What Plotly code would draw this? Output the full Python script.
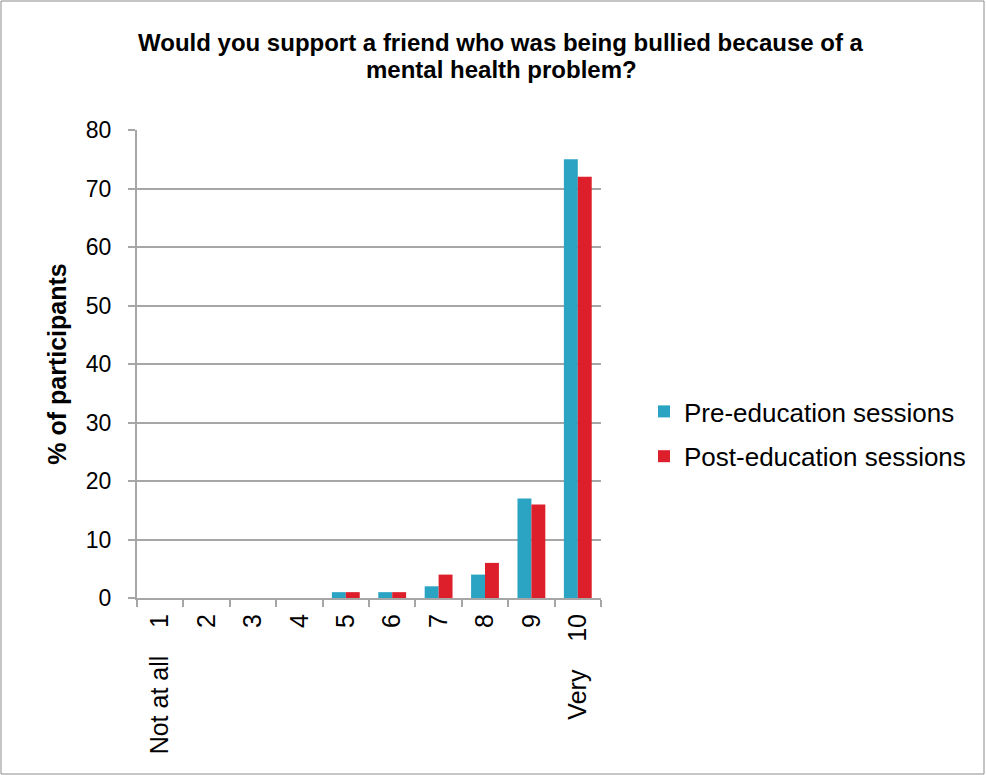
import plotly.graph_objects as go

categories = ["1", "2", "3", "4", "5", "6", "7", "8", "9", "10"]
sp = "\u00a0" * 4
tick_labels = ["Not at all" + sp + "1", "2", "3", "4", "5", "6", "7", "8", "9", "Very" + sp + "10"]
pre_values = [0, 0, 0, 0, 1, 1, 2, 4, 17, 75]
post_values = [0, 0, 0, 0, 1, 1, 4, 6, 16, 72]
series_names = ["Pre-education sessions", "Post-education sessions"]
title_lines = ["Would you support a friend who was being bullied because of a",
               "mental health problem?"]

W, H = 986, 775
L, R, T, B = 137, 385, 130, 177

fig = go.Figure()
fig.add_trace(go.Bar(x=categories, y=pre_values, name=series_names[0], legendgroup="a",
                     marker=dict(color="#2BA3C3", line=dict(width=0))))
fig.add_trace(go.Bar(x=categories, y=post_values, name=series_names[1], legendgroup="b",
                     marker=dict(color="#DD1E2B", line=dict(width=0))))

pw = W - L - R
ph = H - T - B
def px_x(p):
    return (p - L) / pw
def px_y(p):
    return (H - B - p) / ph

fig.add_shape(type="rect", xref="paper", yref="paper",
              x0=px_x(1), x1=px_x(W - 2), y0=px_y(H - 1), y1=px_y(1),
              line=dict(color="#8C8C8C", width=1), fillcolor="rgba(0,0,0,0)", layer="below")

for i, (line, yc) in enumerate(zip(title_lines, [42, 69])):
    fig.add_annotation(text="<b>" + line + "</b>", xref="paper", yref="paper",
                       x=px_x(501), y=px_y(yc), xanchor="center", yanchor="middle",
                       showarrow=False, font=dict(size=24, color="black"))

fig.update_layout(
    width=W, height=H,
    margin=dict(l=L, r=R, t=T, b=B, autoexpand=False),
    paper_bgcolor="white", plot_bgcolor="white",
    font=dict(family="Liberation Sans, Arial, sans-serif", color="black", size=22),
    barmode="group", bargap=0.4, bargroupgap=0.0,
    showlegend=True,
    legend=dict(x=px_x(644), y=px_y(388), xanchor="left", yanchor="top",
                font=dict(size=26), tracegroupgap=8, itemwidth=30,
                bgcolor="rgba(0,0,0,0)"),
    xaxis=dict(type="category", tickvals=categories, ticktext=tick_labels, tickangle=-90,
               tickfont=dict(size=25), showline=True, linecolor="#A6A6A6", linewidth=2,
               ticks="outside", tickson="boundaries", ticklen=7, tickcolor="#A6A6A6", tickwidth=2,
               ticklabelstandoff=4, showgrid=False),
    yaxis=dict(range=[0, 80], dtick=10, tickfont=dict(size=23),
               showline=True, linecolor="#A6A6A6", linewidth=2,
               ticks="outside", ticklen=7, tickcolor="#A6A6A6", tickwidth=2,
               ticklabelstandoff=12,
               showgrid=True, gridcolor="#A6A6A6", gridwidth=2, zeroline=False,
               title=dict(text="<b>% of participants</b>", font=dict(size=25), standoff=12)),
)

fig.write_html("out.html")
